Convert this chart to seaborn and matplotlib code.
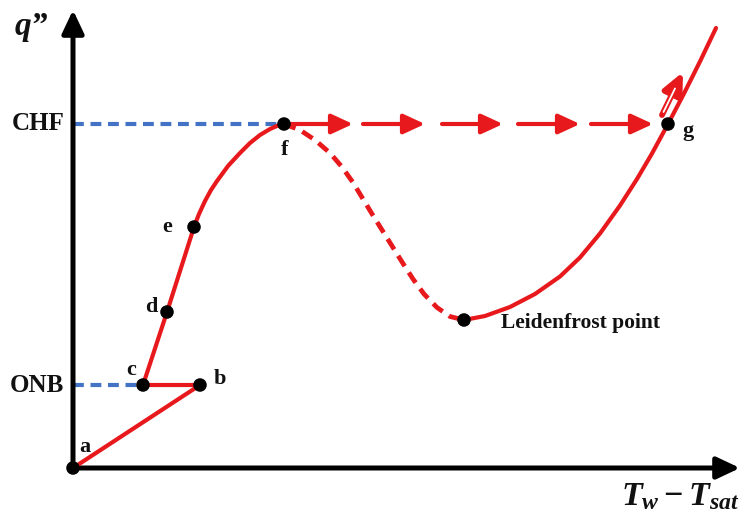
import matplotlib
matplotlib.use("Agg")
import matplotlib.pyplot as plt
import seaborn as sns

# ---- boiling-curve data (wall superheat vs. heat flux, arbitrary units) ----
# single-phase convection a -> b, then jump back to c at onset of nucleate boiling
conv_x = [0, 127, 70]
conv_y = [0, 83, 83]
# nucleate boiling c -> d -> e -> f (CHF)
nuc_x = [70, 94, 121, 126, 132, 138, 144, 155, 167, 177, 187, 197, 205, 211]
nuc_y = [83, 156, 241, 254, 267, 278, 287, 302, 315, 325, 333, 339, 342.5, 344]
# transition boiling f -> Leidenfrost point
trans_x = [211, 227, 242, 257, 269, 280, 290, 300, 310, 320, 330, 340, 351, 364, 377, 391]
trans_y = [344, 338, 328, 315, 301, 285.5, 269, 252.5, 236.5, 220.5, 204.5, 189, 174,
           160.5, 151.5, 148]
# film boiling beyond the Leidenfrost point
film_x = [391, 412, 437, 462, 487, 507, 527, 547, 564, 579, 595, 611, 627, 643]
film_y = [148, 152, 161, 174, 191.5, 210.5, 234.5, 262.5, 289, 314.5, 344, 374.5,
          406.5, 440]

# labelled states on the curve
pt_names = ["a", "b", "c", "d", "e", "f", "Leidenfrost point", "g"]
pt_x = [0, 127, 70, 94, 121, 211, 391, 595]
pt_y = [0, 83, 83, 156, 241, 344, 148, 344]

onb_flux = 83
chf_flux = 344

# heat-flux jump at CHF: arrow segments (start, end superheat)
jump_start = [217, 290, 369, 445, 518]
jump_end = [280, 352, 430, 507, 580]

RED = "#e8191c"
BLUE = "#4472c4"

sns.set_theme(style="white")
plt.rcParams["font.family"] = ["Liberation Serif", "DejaVu Serif"]
plt.rcParams["mathtext.fontset"] = "custom"
plt.rcParams["mathtext.it"] = "Liberation Serif:italic:bold"
plt.rcParams["mathtext.rm"] = "Liberation Serif:bold"
plt.rcParams["mathtext.bf"] = "Liberation Serif:bold"

fig = plt.figure(figsize=(7.43, 5.19), dpi=100)
ax = fig.add_axes([0, 0, 1, 1])
ax.set_xlim(-73, 670)
ax.set_ylim(-51, 468)
ax.axis("off")

# axes with arrow heads
axis_arrow = dict(arrowstyle="-|>,head_length=0.7,head_width=0.33", lw=3.6,
                  color="black", shrinkA=0, shrinkB=0, mutation_scale=20)
ax.annotate("", xy=(0, 458), xytext=(0, -2), arrowprops=axis_arrow, zorder=3)
ax.annotate("", xy=(667, 0), xytext=(-2, 0), arrowprops=axis_arrow, zorder=3)

# reference levels ONB and CHF
sns.lineplot(x=[0, pt_x[2]], y=[onb_flux, onb_flux], ax=ax, color=BLUE, lw=3,
             linestyle=(0, (2.6, 1.6)), sort=False, estimator=None, zorder=2)
sns.lineplot(x=[0, pt_x[5]], y=[chf_flux, chf_flux], ax=ax, color=BLUE, lw=3,
             linestyle=(0, (2.6, 1.6)), sort=False, estimator=None, zorder=2)

# boiling curve
line_kw = dict(ax=ax, color=RED, lw=3, sort=False, estimator=None, zorder=4)
sns.lineplot(x=conv_x, y=conv_y, **line_kw)
sns.lineplot(x=nuc_x, y=nuc_y, **line_kw)
sns.lineplot(x=film_x, y=film_y, **line_kw)
sns.lineplot(x=trans_x, y=trans_y, ax=ax, color=RED, lw=3.4, sort=False,
             estimator=None, linestyle=(0, (2.6, 1.6)), zorder=4)

# temperature excursion at CHF
jump_arrow = dict(arrowstyle="-|>,head_length=0.65,head_width=0.3", lw=3,
                  color=RED, shrinkA=0, shrinkB=0, mutation_scale=20)
for x0, x1 in zip(jump_start, jump_end):
    ax.annotate("", xy=(x1, chf_flux), xytext=(x0, chf_flux),
                arrowprops=jump_arrow, zorder=4)

# hollow arrow along the film-boiling branch
ax.annotate("", xy=(610, 396), xytext=(589, 353),
            arrowprops=dict(arrowstyle="-|>,head_length=0.65,head_width=0.3",
                            lw=4.2, color=RED, shrinkA=0, shrinkB=0,
                            mutation_scale=20), zorder=5)
sns.lineplot(x=[590.5, 602], y=[356, 379.5], ax=ax, color="white", lw=1.3,
             sort=False, estimator=None, zorder=6)

# state points
sns.scatterplot(x=pt_x, y=pt_y, ax=ax, color="black", s=95, edgecolor="none",
                zorder=7, legend=False)

# point labels (offsets in pixels)
label_offsets = {
    "a": (12, 16, "center"),
    "b": (20, 1, "center"),
    "c": (-12, 10, "center"),
    "d": (-16, 0, "center"),
    "e": (-27, -5, "center"),
    "f": (1, -31, "center"),
    "g": (20, -12, "center"),
    "Leidenfrost point": (37, -8, "left"),
}
for name, x, y in zip(pt_names, pt_x, pt_y):
    dx, dy, ha = label_offsets[name]
    size = 15.5 if len(name) > 1 else 16
    ax.annotate(name, xy=(x, y), xytext=(dx, dy), textcoords="offset pixels",
                ha=ha, va="baseline", fontsize=size, fontweight="bold",
                color="#111111", zorder=8)

# level labels
ax.text(-8, chf_flux, "CHF", ha="right", va="center", fontsize=18,
        fontweight="bold", color="#111111")
ax.text(-9, onb_flux - 1, "ONB", ha="right", va="center", fontsize=18,
        fontweight="bold", color="#111111")

# axis titles
ax.text(-58, 433, "q\u201d", ha="left", va="baseline", fontsize=24,
        fontweight="bold", fontstyle="italic", color="#111111")
ax.text(667, -37, r"$T_{w}-T_{sat}$", ha="right", va="baseline", fontsize=24.5,
        color="#111111")

fig.savefig("out.png", dpi=100, facecolor="white")
